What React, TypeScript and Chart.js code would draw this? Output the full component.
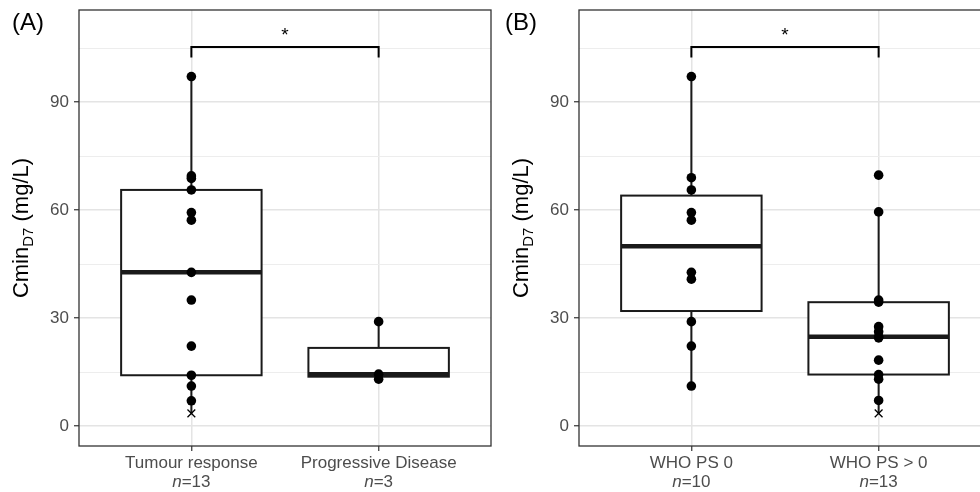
import { useEffect, useRef } from "react";
import { Chart, registerables } from "chart.js";

Chart.register(...registerables);

// ---------- data ----------
const categoriesA = ["Tumour response", "Progressive Disease"];
const countsA = [13, 3];
const tumourResponse = [97.1, 69.5, 68.8, 65.6, 59.3, 57.2, 42.7, 35.0, 22.2, 14.1, 11.1, 7.0];
const tumourResponseLow = [3.5];
const progressiveDisease = [29.0, 14.4, 13.0];
const progressiveDiseaseLow: number[] = [];

const categoriesB = ["WHO PS 0", "WHO PS > 0"];
const countsB = [10, 13];
const whoPS0 = [97.1, 69.0, 65.6, 59.3, 57.2, 42.7, 40.8, 29.0, 22.2, 11.1];
const whoPS0Low: number[] = [];
const whoPSAbove0 = [69.7, 59.5, 35.0, 34.4, 27.6, 26.2, 24.8, 24.5, 18.3, 14.3, 13.0, 7.1];
const whoPSAbove0Low = [3.5];

const yMajorTicks = [0, 30, 60, 90];
const yAllTicks = [0, 15, 30, 45, 60, 75, 90, 105];
const yRange = [-5.56, 115.6];
const significance = ["*", "*"];
const bracketLevel = 105.3;
const bracketTipLevel = 102.4;

const FONT = "'Liberation Sans', Arial, Helvetica, sans-serif";

type PanelCfg = {
  tag: string;
  tagX: number;
  categories: string[];
  counts: number[];
  groups: number[][];
  lows: number[][];
  sig: string;
};

const panels: PanelCfg[] = [
  {
    tag: "(A)",
    tagX: 12,
    categories: categoriesA,
    counts: countsA,
    groups: [tumourResponse, progressiveDisease],
    lows: [tumourResponseLow, progressiveDiseaseLow],
    sig: significance[0],
  },
  {
    tag: "(B)",
    tagX: 5,
    categories: categoriesB,
    counts: countsB,
    groups: [whoPS0, whoPSAbove0],
    lows: [whoPS0Low, whoPSAbove0Low],
    sig: significance[1],
  },
];

function quantile(sorted: number[], p: number) {
  const h = (sorted.length - 1) * p;
  const lo = Math.floor(h);
  const hi = Math.ceil(h);
  return sorted[lo] + (h - lo) * (sorted[hi] - sorted[lo]);
}

function boxStats(values: number[]) {
  const s = [...values].sort((a, b) => a - b);
  const q1 = quantile(s, 0.25);
  const med = quantile(s, 0.5);
  const q3 = quantile(s, 0.75);
  const iqr = q3 - q1;
  const lowFence = q1 - 1.5 * iqr;
  const highFence = q3 + 1.5 * iqr;
  const lo = Math.min(...s.filter((v) => v >= lowFence));
  const hi = Math.max(...s.filter((v) => v <= highFence));
  return { q1, med, q3, lo, hi };
}

function makePlugin(cfg: PanelCfg) {
  return {
    id: "boxplot" + cfg.tag,
    beforeDatasetsDraw(chart: any) {
      const { ctx } = chart;
      const x = chart.scales.x;
      const y = chart.scales.y;
      ctx.save();
      cfg.groups.forEach((vals, i) => {
        const st = boxStats([...vals, ...cfg.lows[i]]);
        const xc = x.getPixelForValue(i + 1);
        const hw = x.getPixelForValue(i + 1 + 0.375) - xc;
        const yq1 = y.getPixelForValue(st.q1);
        const yq3 = y.getPixelForValue(st.q3);
        const ymed = y.getPixelForValue(st.med);
        ctx.strokeStyle = "#1a1a1a";
        ctx.lineWidth = 2;
        ctx.beginPath();
        ctx.moveTo(xc, yq3);
        ctx.lineTo(xc, y.getPixelForValue(st.hi));
        ctx.moveTo(xc, yq1);
        ctx.lineTo(xc, y.getPixelForValue(st.lo));
        ctx.stroke();
        ctx.fillStyle = "#ffffff";
        ctx.fillRect(xc - hw, yq3, 2 * hw, yq1 - yq3);
        ctx.strokeRect(xc - hw, yq3, 2 * hw, yq1 - yq3);
        ctx.lineWidth = 4.5;
        ctx.beginPath();
        ctx.moveTo(xc - hw, ymed);
        ctx.lineTo(xc + hw, ymed);
        ctx.stroke();
      });
      ctx.restore();
    },
    afterDatasetsDraw(chart: any) {
      const { ctx, chartArea } = chart;
      const x = chart.scales.x;
      const y = chart.scales.y;
      ctx.save();
      // significance bracket
      const x1 = x.getPixelForValue(1);
      const x2 = x.getPixelForValue(2);
      const yb = y.getPixelForValue(bracketLevel);
      const yt = y.getPixelForValue(bracketTipLevel);
      ctx.strokeStyle = "#000";
      ctx.lineWidth = 2;
      ctx.beginPath();
      ctx.moveTo(x1, yt);
      ctx.lineTo(x1, yb);
      ctx.lineTo(x2, yb);
      ctx.lineTo(x2, yt);
      ctx.stroke();
      ctx.fillStyle = "#000";
      ctx.font = `19px ${FONT}`;
      ctx.textAlign = "center";
      ctx.textBaseline = "alphabetic";
      ctx.fillText(cfg.sig, (x1 + x2) / 2, yb - 6.5);
      // panel border
      ctx.strokeStyle = "#333333";
      ctx.lineWidth = 1.3;
      ctx.strokeRect(
        chartArea.left,
        chartArea.top,
        chartArea.right - chartArea.left,
        chartArea.bottom - chartArea.top
      );
      ctx.restore();
    },
    afterDraw(chart: any) {
      const { ctx, chartArea } = chart;
      const x = chart.scales.x;
      ctx.save();
      // n labels (second line of x tick labels)
      ctx.fillStyle = "#4d4d4d";
      ctx.textBaseline = "middle";
      ctx.textAlign = "left";
      cfg.counts.forEach((n, i) => {
        const xc = x.getPixelForValue(i + 1);
        ctx.font = `italic 17px ${FONT}`;
        const w1 = ctx.measureText("n").width;
        ctx.font = `17px ${FONT}`;
        const rest = "=" + n;
        const w2 = ctx.measureText(rest).width;
        const start = xc - (w1 + w2) / 2;
        ctx.font = `italic 17px ${FONT}`;
        ctx.fillText("n", start, 482);
        ctx.font = `17px ${FONT}`;
        ctx.fillText(rest, start + w1, 482);
      });
      // y axis title with subscript
      const cy = (chartArea.top + chartArea.bottom) / 2;
      ctx.translate(28, cy);
      ctx.rotate(-Math.PI / 2);
      ctx.fillStyle = "#000";
      ctx.textBaseline = "alphabetic";
      ctx.textAlign = "left";
      const big = `22px ${FONT}`;
      const small = `15px ${FONT}`;
      ctx.font = big;
      const wa = ctx.measureText("Cmin").width;
      const wc = ctx.measureText(" (mg/L)").width;
      ctx.font = small;
      const wb = ctx.measureText("D7").width;
      let pos = -(wa + wb + wc) / 2;
      ctx.font = big;
      ctx.fillText("Cmin", pos, 0);
      pos += wa;
      ctx.font = small;
      ctx.fillText("D7", pos, 5);
      pos += wb;
      ctx.font = big;
      ctx.fillText(" (mg/L)", pos, 0);
      ctx.setTransform(1, 0, 0, 1, 0, 0);
      // panel tag
      ctx.font = `24px ${FONT}`;
      ctx.fillStyle = "#000";
      ctx.textAlign = "left";
      ctx.textBaseline = "alphabetic";
      ctx.fillText(cfg.tag, cfg.tagX, 30);
      ctx.restore();
    },
  };
}

function Panel({ cfg, left }: { cfg: PanelCfg; left: number }) {
  const ref = useRef<HTMLCanvasElement>(null);
  useEffect(() => {
    const points: { x: number; y: number }[] = [];
    cfg.groups.forEach((vals, i) => vals.forEach((v) => points.push({ x: i + 1, y: v })));
    const lows: { x: number; y: number }[] = [];
    cfg.lows.forEach((vals, i) => vals.forEach((v) => lows.push({ x: i + 1, y: v })));

    const chart = new Chart(ref.current as HTMLCanvasElement, {
      type: "scatter",
      data: {
        datasets: [
          {
            data: points,
            pointStyle: "circle",
            pointRadius: 4.8,
            backgroundColor: "#000",
            borderWidth: 0,
          },
          {
            data: lows,
            pointStyle: "crossRot",
            pointRadius: 5.5,
            borderColor: "#000",
            borderWidth: 1.3,
          },
        ],
      },
      options: {
        animation: false,
        responsive: false,
        events: [],
        layout: { padding: { top: 10, right: 9, left: 0, bottom: 0 } },
        plugins: { legend: { display: false }, tooltip: { enabled: false } },
        scales: {
          x: {
            type: "linear",
            min: 0.4,
            max: 2.6,
            afterBuildTicks: (scale: any) => {
              scale.ticks = cfg.categories.map((_, i) => ({ value: i + 1 }));
            },
            afterFit: (scale: any) => {
              scale.height = 46;
              scale.paddingLeft = 0;
              scale.paddingRight = 0;
            },
            ticks: {
              callback: (v: any) => cfg.categories[Number(v) - 1] ?? "",
              font: { family: FONT, size: 17 },
              color: "#4d4d4d",
              padding: 2,
              maxRotation: 0,
              autoSkip: false,
            },
            grid: {
              color: "#e4e4e4",
              lineWidth: 1.5,
              tickColor: "#333333",
              tickLength: 5,
              tickWidth: 1.2,
            },
            border: { display: false },
          },
          y: {
            type: "linear",
            min: yRange[0],
            max: yRange[1],
            afterBuildTicks: (scale: any) => {
              scale.ticks = yAllTicks.map((v) => ({ value: v }));
            },
            afterFit: (scale: any) => {
              scale.width = 79;
              scale.paddingTop = 0;
              scale.paddingBottom = 0;
            },
            ticks: {
              callback: (v: any) => (yMajorTicks.includes(Number(v)) ? String(v) : ""),
              font: { family: FONT, size: 17 },
              color: "#4d4d4d",
              padding: 5,
              autoSkip: false,
            },
            grid: {
              color: (ctx: any) =>
                yMajorTicks.includes(ctx.tick?.value) ? "#e4e4e4" : "#ededed",
              lineWidth: (ctx: any) => (yMajorTicks.includes(ctx.tick?.value) ? 1.5 : 1),
              tickColor: (ctx: any) =>
                yMajorTicks.includes(ctx.tick?.value) ? "#333333" : "rgba(0,0,0,0)",
              tickLength: 5,
              tickWidth: 1.2,
            },
            border: { display: false },
          },
        },
      },
      plugins: [makePlugin(cfg)],
    } as any);
    return () => chart.destroy();
  }, [cfg]);
  return (
    <canvas
      ref={ref}
      width={500}
      height={492}
      style={{ position: "absolute", left, top: 0, width: 500, height: 492 }}
    />
  );
}

export default function App() {
  return (
    <div
      style={{
        position: "absolute",
        left: 0,
        top: 0,
        width: 980,
        height: 492,
        overflow: "hidden",
        background: "#fff",
      }}
    >
      <Panel cfg={panels[0]} left={0} />
      <Panel cfg={panels[1]} left={500} />
    </div>
  );
}
